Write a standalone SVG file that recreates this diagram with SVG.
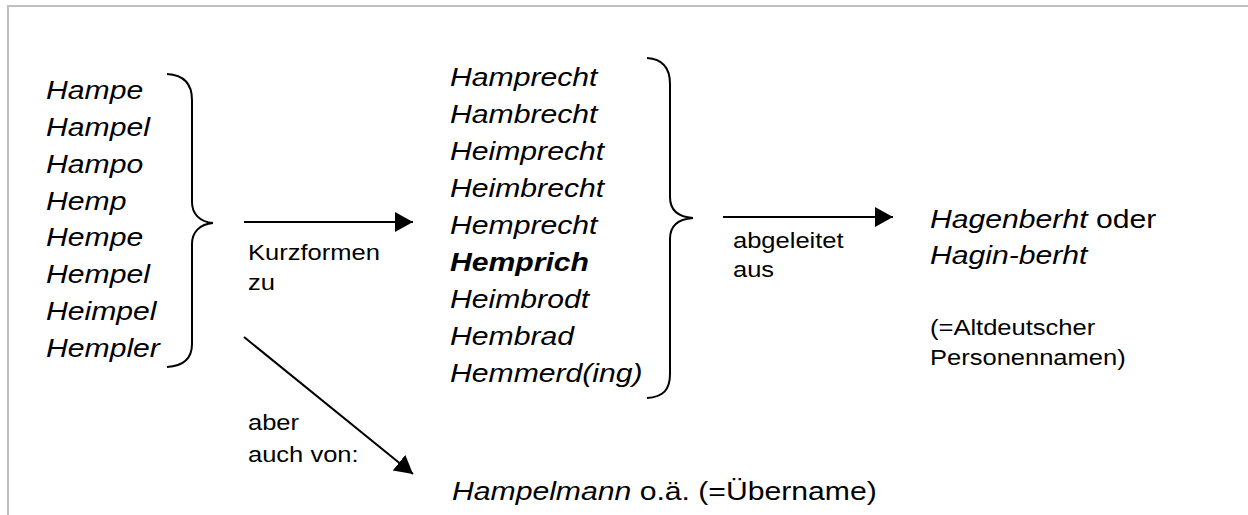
<svg xmlns="http://www.w3.org/2000/svg" width="1248" height="515" viewBox="0 0 1248 515">
<style>
text{font-family:"Liberation Sans",Arial,sans-serif;fill:#000}
.big{font-size:26px}
.sm{font-size:22px}
.it{font-style:italic}
.bi{font-style:italic;font-weight:bold}
.brace{fill:none;stroke:#000;stroke-width:2}
.conn{stroke:#000;stroke-width:2;fill:none}
.frame{stroke:#c0c0c0;stroke-width:2;fill:none}
</style>
<defs>
<marker id="ah" markerUnits="userSpaceOnUse" markerWidth="20" markerHeight="22" refX="18" refY="10" orient="auto" viewBox="0 0 20 20">
<path d="M0,0 L18,10 L0,20 Z" fill="#000"/>
</marker>
</defs>
<rect width="1248" height="515" fill="#fff"/>
<path class="frame" d="M8,515 V6 H1248"/>

<g id="shortforms" transform="translate(46,0) scale(1.16,1)">
<text class="big it" x="0" y="99">Hampe</text>
<text class="big it" x="0" y="136">Hampel</text>
<text class="big it" x="0" y="173">Hampo</text>
<text class="big it" x="0" y="210">Hemp</text>
<text class="big it" x="0" y="246">Hempe</text>
<text class="big it" x="0" y="283">Hempel</text>
<text class="big it" x="0" y="320">Heimpel</text>
<text class="big it" x="0" y="357">Hempler</text>
</g>
<g id="brace1">
<path class="brace" d="M167,74 C184,75 192,84 192,100 V202 C192,214 200,222 213,223 C200,224 192,232 192,244 V344 C192,358 184,366 167,367"/>
</g>

<g id="fullforms" transform="translate(450,0) scale(1.16,1)">
<text class="big it" x="0" y="86.5">Hamprecht</text>
<text class="big it" x="0" y="123.4">Hambrecht</text>
<text class="big it" x="0" y="160.3">Heimprecht</text>
<text class="big it" x="0" y="197.2">Heimbrecht</text>
<text class="big it" x="0" y="234.1">Hemprecht</text>
<text class="big bi" x="0" y="271">Hemprich</text>
<text class="big it" x="0" y="307.9">Heimbrodt</text>
<text class="big it" x="0" y="344.8">Hembrad</text>
<text class="big it" x="0" y="381.7">Hemmerd(ing)</text>
</g>
<g id="brace2">
<path class="brace" d="M647,58 C663,59 670,68 670,84 V197 C670,210 678,217 693,218 C678,219 670,226 670,239 V374 C670,390 663,397 647,398"/>
</g>

<g id="origin" transform="translate(930,0) scale(1.16,1)">
<text class="big" x="0" y="228"><tspan class="it">Hagenberht</tspan> oder</text>
<text class="big it" x="0" y="264">Hagin-berht</text>
<text class="sm" x="0" y="335">(=Altdeutscher</text>
<text class="sm" x="0" y="365">Personennamen)</text>
</g>

<g id="nickname" transform="translate(452,0) scale(1.16,1)">
<text class="big" x="0" y="500"><tspan class="it">Hampelmann</tspan> o.ä. (=Übername)</text>
</g>

<g id="connectors">
<line class="conn" x1="244" y1="222" x2="413" y2="222" marker-end="url(#ah)"/>
<line class="conn" x1="723" y1="217" x2="893" y2="217" marker-end="url(#ah)"/>
<line class="conn" x1="244" y1="337" x2="413" y2="474" marker-end="url(#ah)"/>
<g transform="translate(248,0) scale(1.16,1)">
<text class="sm" x="0" y="260">Kurzformen</text>
<text class="sm" x="0" y="290">zu</text>
<text class="sm" x="0" y="430">aber</text>
<text class="sm" x="0" y="462">auch von:</text>
</g>
<g transform="translate(733,0) scale(1.16,1)">
<text class="sm" x="0" y="248">abgeleitet</text>
<text class="sm" x="0" y="277">aus</text>
</g>
</g>
</svg>
